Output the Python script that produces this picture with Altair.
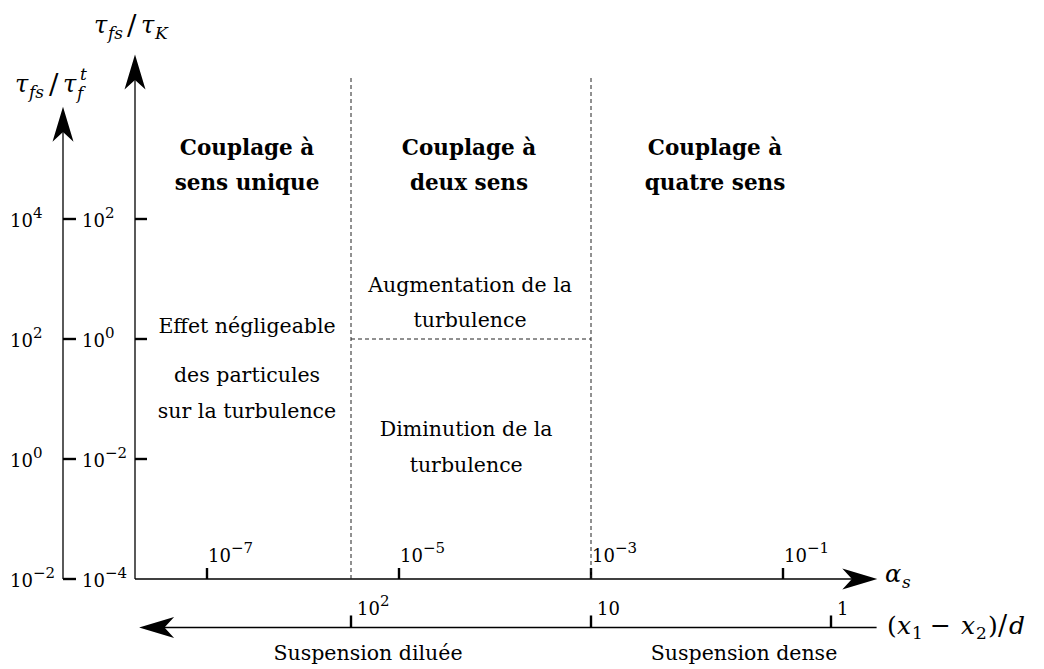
import math
import altair as alt
import pandas as pd

# ------------------------------------------------------------------ data
alpha_ticks = [1e-7, 1e-5, 1e-3, 1e-1]          # alpha_s tick values
alpha_exp = ["−7", "−5", "−3", "−1"]
tauK_ticks = [1e2, 1e0, 1e-2, 1e-4]             # tau_fs / tau_K tick values
tauK_exp = ["2", "0", "−2", "−4"]
tauF_ticks = [1e4, 1e2, 1e0, 1e-2]              # tau_fs / tau_f^t tick values
tauF_exp = ["4", "2", "0", "−2"]
sep_ticks = [100, 10, 1]                        # (x1 - x2)/d tick values
sep_base = ["10", "10", "1"]
sep_exp = ["2", "", ""]
alpha_bounds = [10 ** -5.5, 1e-3]               # regime boundaries on alpha_s
tau_bound = 1.0                                 # two-way coupling split (tau_fs/tau_K)

regime_titles = [("Couplage à", "sens unique"),
                 ("Couplage à", "deux sens"),
                 ("Couplage à", "quatre sens")]
regime_title_alpha = [10 ** -6.583, 10 ** -4.271, 10 ** -1.708]
effect_lines = ["Effet négligeable", "des particules", "sur la turbulence"]
effect_tau = [10 ** 0.10, 10 ** -0.717, 10 ** -1.317]
augment_lines = ["Augmentation de la", "turbulence"]
augment_tau = [10 ** 0.783, 10 ** 0.2]
diminish_lines = ["Diminution de la", "turbulence"]
diminish_tau = [10 ** -1.617, 10 ** -2.217]
suspension_labels = ["Suspension diluée", "Suspension dense"]
suspension_alpha = [10 ** -5.323, 10 ** -1.406]

# axis extents (in the axis' own units)
alpha_axis = (10 ** -7.75, 10 ** -0.2)     # horizontal alpha_s axis
tauK_axis = (1e-4, 10 ** 4.45)             # vertical tau_fs/tau_K axis
tauF_axis = (1e-2, 10 ** 5.58)             # vertical tau_fs/tau_f^t axis
sep_axis = (10 ** 2.81, 10 ** -0.19)       # lower separation axis (reversed)


# ------------------------------------------------------------------ transforms
def lx_alpha(a):
    return math.log10(a)


def ly_tauK(t):
    return math.log10(t)


def ly_tauF(t):
    return math.log10(t) - 2.0


def lx_sep(s):
    return -0.5 - 2.5 * math.log10(s)


X0 = lx_alpha(alpha_axis[0])      # vertical tauK axis position
XL = -8.5                         # position of the tau_f^t axis
Y0 = ly_tauK(tauK_axis[0])        # alpha axis level
YS_LOW = -4.808                   # lower separation axis level

FONT = "DejaVu Serif"
W, H = 1014, 648
XS = alt.Scale(domain=[-9, -9 + W / 96], nice=False, zero=False)
YS = alt.Scale(domain=[5.5 - H / 60, 5.5], nice=False, zero=False)


def X(f="x"):
    return alt.X(f"{f}:Q", scale=XS, axis=None)


def Y(f="y"):
    return alt.Y(f"{f}:Q", scale=YS, axis=None)


def rules(rows, width=1.3, dash=None, color="black"):
    df = pd.DataFrame(rows, columns=["x", "x2", "y", "y2"])
    kw = dict(color=color, strokeWidth=width)
    if dash:
        kw["strokeDash"] = dash
    return alt.Chart(df).mark_rule(**kw).encode(
        x=X(), x2="x2:Q", y=Y(), y2="y2:Q")


def texts(rows, size, dx=0, dy=0, align="left", weight="normal",
          style="normal"):
    df = pd.DataFrame(rows, columns=["x", "y", "t"])
    return alt.Chart(df).mark_text(
        font=FONT, fontSize=size, dx=dx, dy=dy, align=align,
        baseline="alphabetic", fontWeight=weight, fontStyle=style,
        color="black").encode(x=X(), y=Y(), text="t:N")


layers = []

# axis lines
layers.append(rules([
    (lx_alpha(alpha_axis[0]), lx_alpha(alpha_axis[1]), Y0, Y0),
    (X0, X0, Y0, ly_tauK(tauK_axis[1])),
    (XL, XL, ly_tauF(tauF_axis[0]), ly_tauF(tauF_axis[1])),
    (lx_sep(sep_axis[0]), lx_sep(sep_axis[1]), YS_LOW, YS_LOW),
], width=1.3))

# ticks
tick_rows = []
for a in alpha_ticks:
    tick_rows.append((lx_alpha(a), lx_alpha(a), Y0, Y0 + 11 / 60))
for t in tauK_ticks[:-1]:
    tick_rows.append((X0, X0 + 12 / 96, ly_tauK(t), ly_tauK(t)))
for t in tauF_ticks:
    tick_rows.append((XL, XL + 13 / 96, ly_tauF(t), ly_tauF(t)))
for s in sep_ticks:
    tick_rows.append((lx_sep(s), lx_sep(s), YS_LOW, YS_LOW + 12 / 60))
layers.append(rules(tick_rows, width=2.4))

# dashed regime boundaries
dash_rows = [(lx_alpha(a), lx_alpha(a), Y0, 4.4) for a in alpha_bounds]
dash_rows.append((lx_alpha(alpha_bounds[0]), lx_alpha(alpha_bounds[1]),
                  ly_tauK(tau_bound), ly_tauK(tau_bound)))
layers.append(rules(dash_rows, width=1, dash=[4, 3], color="#222222"))

# arrowheads
arrow_df = pd.DataFrame({
    "x": [lx_alpha(alpha_axis[1]), X0, XL, lx_sep(sep_axis[0])],
    "y": [Y0, ly_tauK(tauK_axis[1]), ly_tauF(tauF_axis[1]), YS_LOW],
    "angle": [0, 270, 270, 180],
})
layers.append(alt.Chart(arrow_df).mark_point(
    shape="M1,0 L-1,-0.6 L-0.45,0 L-1,0.6 Z", filled=True, color="black",
    opacity=1, size=1225, strokeWidth=0).encode(
    x=X(), y=Y(), angle=alt.Angle("angle:Q", scale=None)))

# tick labels
BS, ES = 18, 15
layers.append(texts([(lx_alpha(a), Y0, "10") for a in alpha_ticks], BS, dx=1, dy=-17))
layers.append(texts([(lx_alpha(a), Y0, e) for a, e in zip(alpha_ticks, alpha_exp)],
                    ES, dx=24, dy=-26))
layers.append(texts([(X0, ly_tauK(t), "10") for t in tauK_ticks], BS, dx=-53, dy=8))
layers.append(texts([(X0, ly_tauK(t), e) for t, e in zip(tauK_ticks, tauK_exp)],
                    ES, dx=-30, dy=-1))
layers.append(texts([(XL, ly_tauF(t), "10") for t in tauF_ticks], BS, dx=-53, dy=8))
layers.append(texts([(XL, ly_tauF(t), e) for t, e in zip(tauF_ticks, tauF_exp)],
                    ES, dx=-30, dy=-1))
layers.append(texts([(lx_sep(s), YS_LOW, b) for s, b in zip(sep_ticks, sep_base)],
                    BS, dx=6, dy=-12))
layers.append(texts([(lx_sep(s), YS_LOW, e) for s, e in zip(sep_ticks, sep_exp)],
                    ES, dx=29, dy=-21))

# regime titles (bold)
layers.append(texts([(lx_alpha(a), 3.067, t[0]) for a, t in zip(regime_title_alpha, regime_titles)],
                    21.5, align="center", weight="bold"))
layers.append(texts([(lx_alpha(a), 2.483, t[1]) for a, t in zip(regime_title_alpha, regime_titles)],
                    21.5, align="center", weight="bold"))

# region descriptions
RS = 20.5
layers.append(texts([(lx_alpha(regime_title_alpha[0]), ly_tauK(t), s)
                     for t, s in zip(effect_tau, effect_lines)], RS, align="center"))
layers.append(texts([(-4.26, ly_tauK(t), s)
                     for t, s in zip(augment_tau, augment_lines)], RS, align="center"))
layers.append(texts([(-4.30, ly_tauK(t), s)
                     for t, s in zip(diminish_tau, diminish_lines)], RS, align="center"))
layers.append(texts([(lx_alpha(a), YS_LOW, s)
                     for a, s in zip(suspension_alpha, suspension_labels)], RS,
                    align="center", dy=33))

# axis titles (composed math)
yK = ly_tauK(10 ** 5.1)
for txt, dx, dy, size, st in [("τ", -41, 0, 24, "italic"), ("fs", -27, 6, 17, "italic"),
                              ("/", -8, 2, 28, "normal"), ("τ", 6, 0, 24, "italic"),
                              ("K", 20, 6, 17, "italic")]:
    layers.append(texts([(X0, yK, txt)], size, dx=dx, dy=dy, style=st))
yF = 4.117
for txt, dx, dy, size, st in [("τ", -48, 0, 24, "italic"), ("fs", -34, 6, 17, "italic"),
                              ("/", -14, 2, 28, "normal"), ("τ", 0, 0, 24, "italic"),
                              ("f", 14, 7, 17, "italic"), ("t", 17, -12, 17, "italic")]:
    layers.append(texts([(XL, yF, txt)], size, dx=dx, dy=dy, style=st))
xa = lx_alpha(1.0) + 0.0625
layers.append(texts([(xa, Y0, "α")], 24, dx=0, dy=3, style="italic"))
layers.append(texts([(xa, Y0, "s")], 17, dx=17, dy=9, style="italic"))
xs = 0.0833
for txt, dx, dy, size, st in [("(", 0, 7, 25, "normal"), ("x", 10, 7, 25, "italic"),
                              ("1", 25, 12, 17, "normal"), ("−", 43, 7, 25, "normal"),
                              ("x", 74, 7, 25, "italic"), ("2", 89, 12, 17, "normal"),
                              (")", 101, 7, 25, "normal"), ("/", 111, 8, 27, "normal"),
                              ("d", 122, 7, 25, "italic")]:
    layers.append(texts([(xs, YS_LOW, txt)], size, dx=dx, dy=dy, style=st))

chart = alt.layer(*layers).properties(
    width=W, height=H,
    padding={"left": 7, "top": 1, "right": 7, "bottom": 11},
    autosize=alt.AutoSizeParams(type="none"),
).configure_view(stroke=None)

chart.save("out.html", embed_options={"renderer": "svg", "actions": False})
